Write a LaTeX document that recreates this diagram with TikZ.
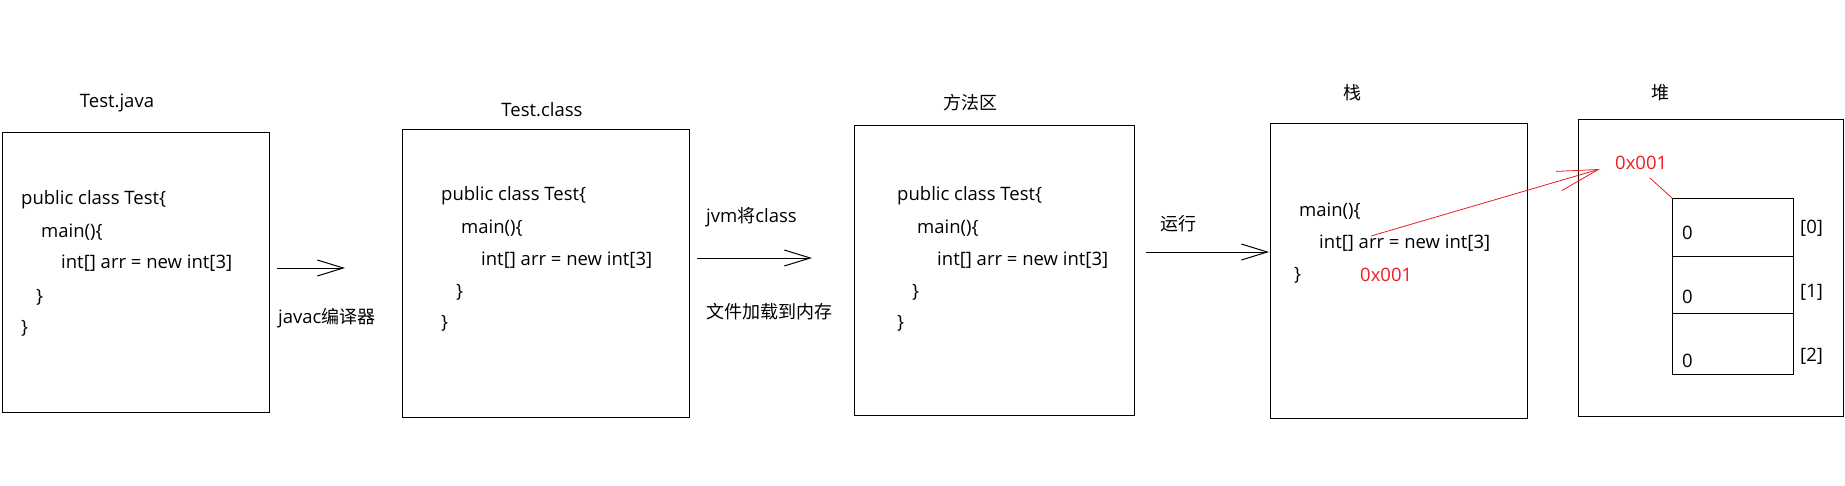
\documentclass[tikz,border=0pt]{standalone}
\usepackage{fontspec}
\usetikzlibrary{arrows.meta}
\newfontfamily\latinf{Open Sans}
\newfontfamily\cjkf{Noto Sans CJK SC}
\newcommand\lsz{\fontsize{18.5}{20}\selectfont}
\newcommand\csz{\fontsize{18}{20}\selectfont}
\definecolor{pred}{HTML}{ED1C24}
\tikzset{
  x=1pt, y=-1pt,
  box/.style={draw=black, line width=1pt, anchor=north west, inner sep=0pt},
  code/.style={anchor=west, inner sep=0pt, font=\latinf\lsz},
  cjk/.style={anchor=west, inner sep=0pt, font=\cjkf\csz},
  title/.style={anchor=center, inner sep=0pt, font=\latinf\lsz},
  ctitle/.style={anchor=center, inner sep=0pt, font=\cjkf\csz},
  redtext/.style={text=pred},
  arr/.style={draw=black, line width=1pt, -{Straight Barb[length=26pt,width=16pt,line width=1pt]}},
  redarr/.style={draw=pred, line width=0.8pt, -{Straight Barb[length=41pt,width=20pt,line width=0.8pt]}},
}
\begin{document}
\begin{tikzpicture}
\useasboundingbox (0,0) rectangle (1845,485);
% boxes
\node[box, minimum width=267pt, minimum height=280pt] (b1) at (2,132) {};
\node[box, minimum width=287pt, minimum height=288pt] (b2) at (402,129) {};
\node[box, minimum width=280pt, minimum height=290pt] (b3) at (854,125) {};
\node[box, minimum width=257pt, minimum height=295pt] (b4) at (1270,123) {};
\node[box, minimum width=265pt, minimum height=297pt] (b5) at (1578,119) {};
% titles
\node[title] (t1) at (117,103) {Test.java};
\node[title] (t2) at (542,110) {Test.class};
\node[ctitle] (t3) at (970,103) {方法区};
\node[ctitle] (t4) at (1352,93) {栈};
\node[ctitle] (t5) at (1660,93) {堆};
% code box 1
\node[code] (c11) at (21,200) {public class Test\{};
\node[code] (c12) at (41,232) {main()\{};
\node[code] (c13) at (61,263) {int[] arr = new int[3]};
\node[code] (c14) at (36,297) {\}};
\node[code] (c15) at (21,328) {\}};
% code box 2
\node[code] (c21) at (441,196) {public class Test\{};
\node[code] (c22) at (461,228) {main()\{};
\node[code] (c23) at (481,260) {int[] arr = new int[3]};
\node[code] (c24) at (456,292) {\}};
\node[code] (c25) at (441,323) {\}};
% code box 3
\node[code] (c31) at (897,196) {public class Test\{};
\node[code] (c32) at (917,228) {main()\{};
\node[code] (c33) at (937,260) {int[] arr = new int[3]};
\node[code] (c34) at (912,292) {\}};
\node[code] (c35) at (897,323) {\}};
% stack
\node[code] (c41) at (1299,211) {main()\{};
\node[code] (c42) at (1319,243) {int[] arr = new int[3]};
\node[code] (c43) at (1294,275) {\}};
\node[code, redtext] (ref1) at (1360,275) {0x001};
% heap
\node[code, redtext] (ref2) at (1615,163) {0x001};
\node[box, minimum width=121pt, minimum height=58pt] (cell0) at (1672,198) {};
\node[box, minimum width=121pt, minimum height=57pt] (cell1) at (1672,256) {};
\node[box, minimum width=121pt, minimum height=61pt] (cell2) at (1672,313) {};
\node[code] (v0) at (1682,233) {0};
\node[code] (v1) at (1682,297) {0};
\node[code] (v2) at (1682,361) {0};
\node[code] (i0) at (1800,228) {[0]};
\node[code] (i1) at (1800,292) {[1]};
\node[code] (i2) at (1800,356) {[2]};
% arrow labels
\node[anchor=west, inner sep=0pt] (l1) at (278,318) {\latinf\lsz javac\cjkf\csz 编译器};
\node[anchor=west, inner sep=0pt] (l2) at (706,217) {\latinf\lsz jvm\cjkf\csz 将\latinf\lsz class};
\node[cjk] (l3) at (706,312) {文件加载到内存};
\node[cjk] (l4) at (1160,224) {运行};
% arrows
\coordinate (a1s) at (277,268);
\coordinate (a1e) at (345,268);
\coordinate (a2s) at (697,258);
\coordinate (a2e) at (812,258);
\coordinate (a3s) at (1146,252);
\coordinate (a3e) at (1269,252);
\draw[arr] (a1s) -- (a1e);
\draw[arr] (a2s) -- (a2e);
\draw[arr] (a3s) -- (a3e);
\coordinate (rs) at (1371,236);
\coordinate (re) at (1600,169);
\draw[redarr] (rs) -- (re);
\coordinate (ls) at (1650,178);
\draw[draw=pred, line width=0.8pt] (ls) -- (cell0.north west);
\end{tikzpicture}
\end{document}
